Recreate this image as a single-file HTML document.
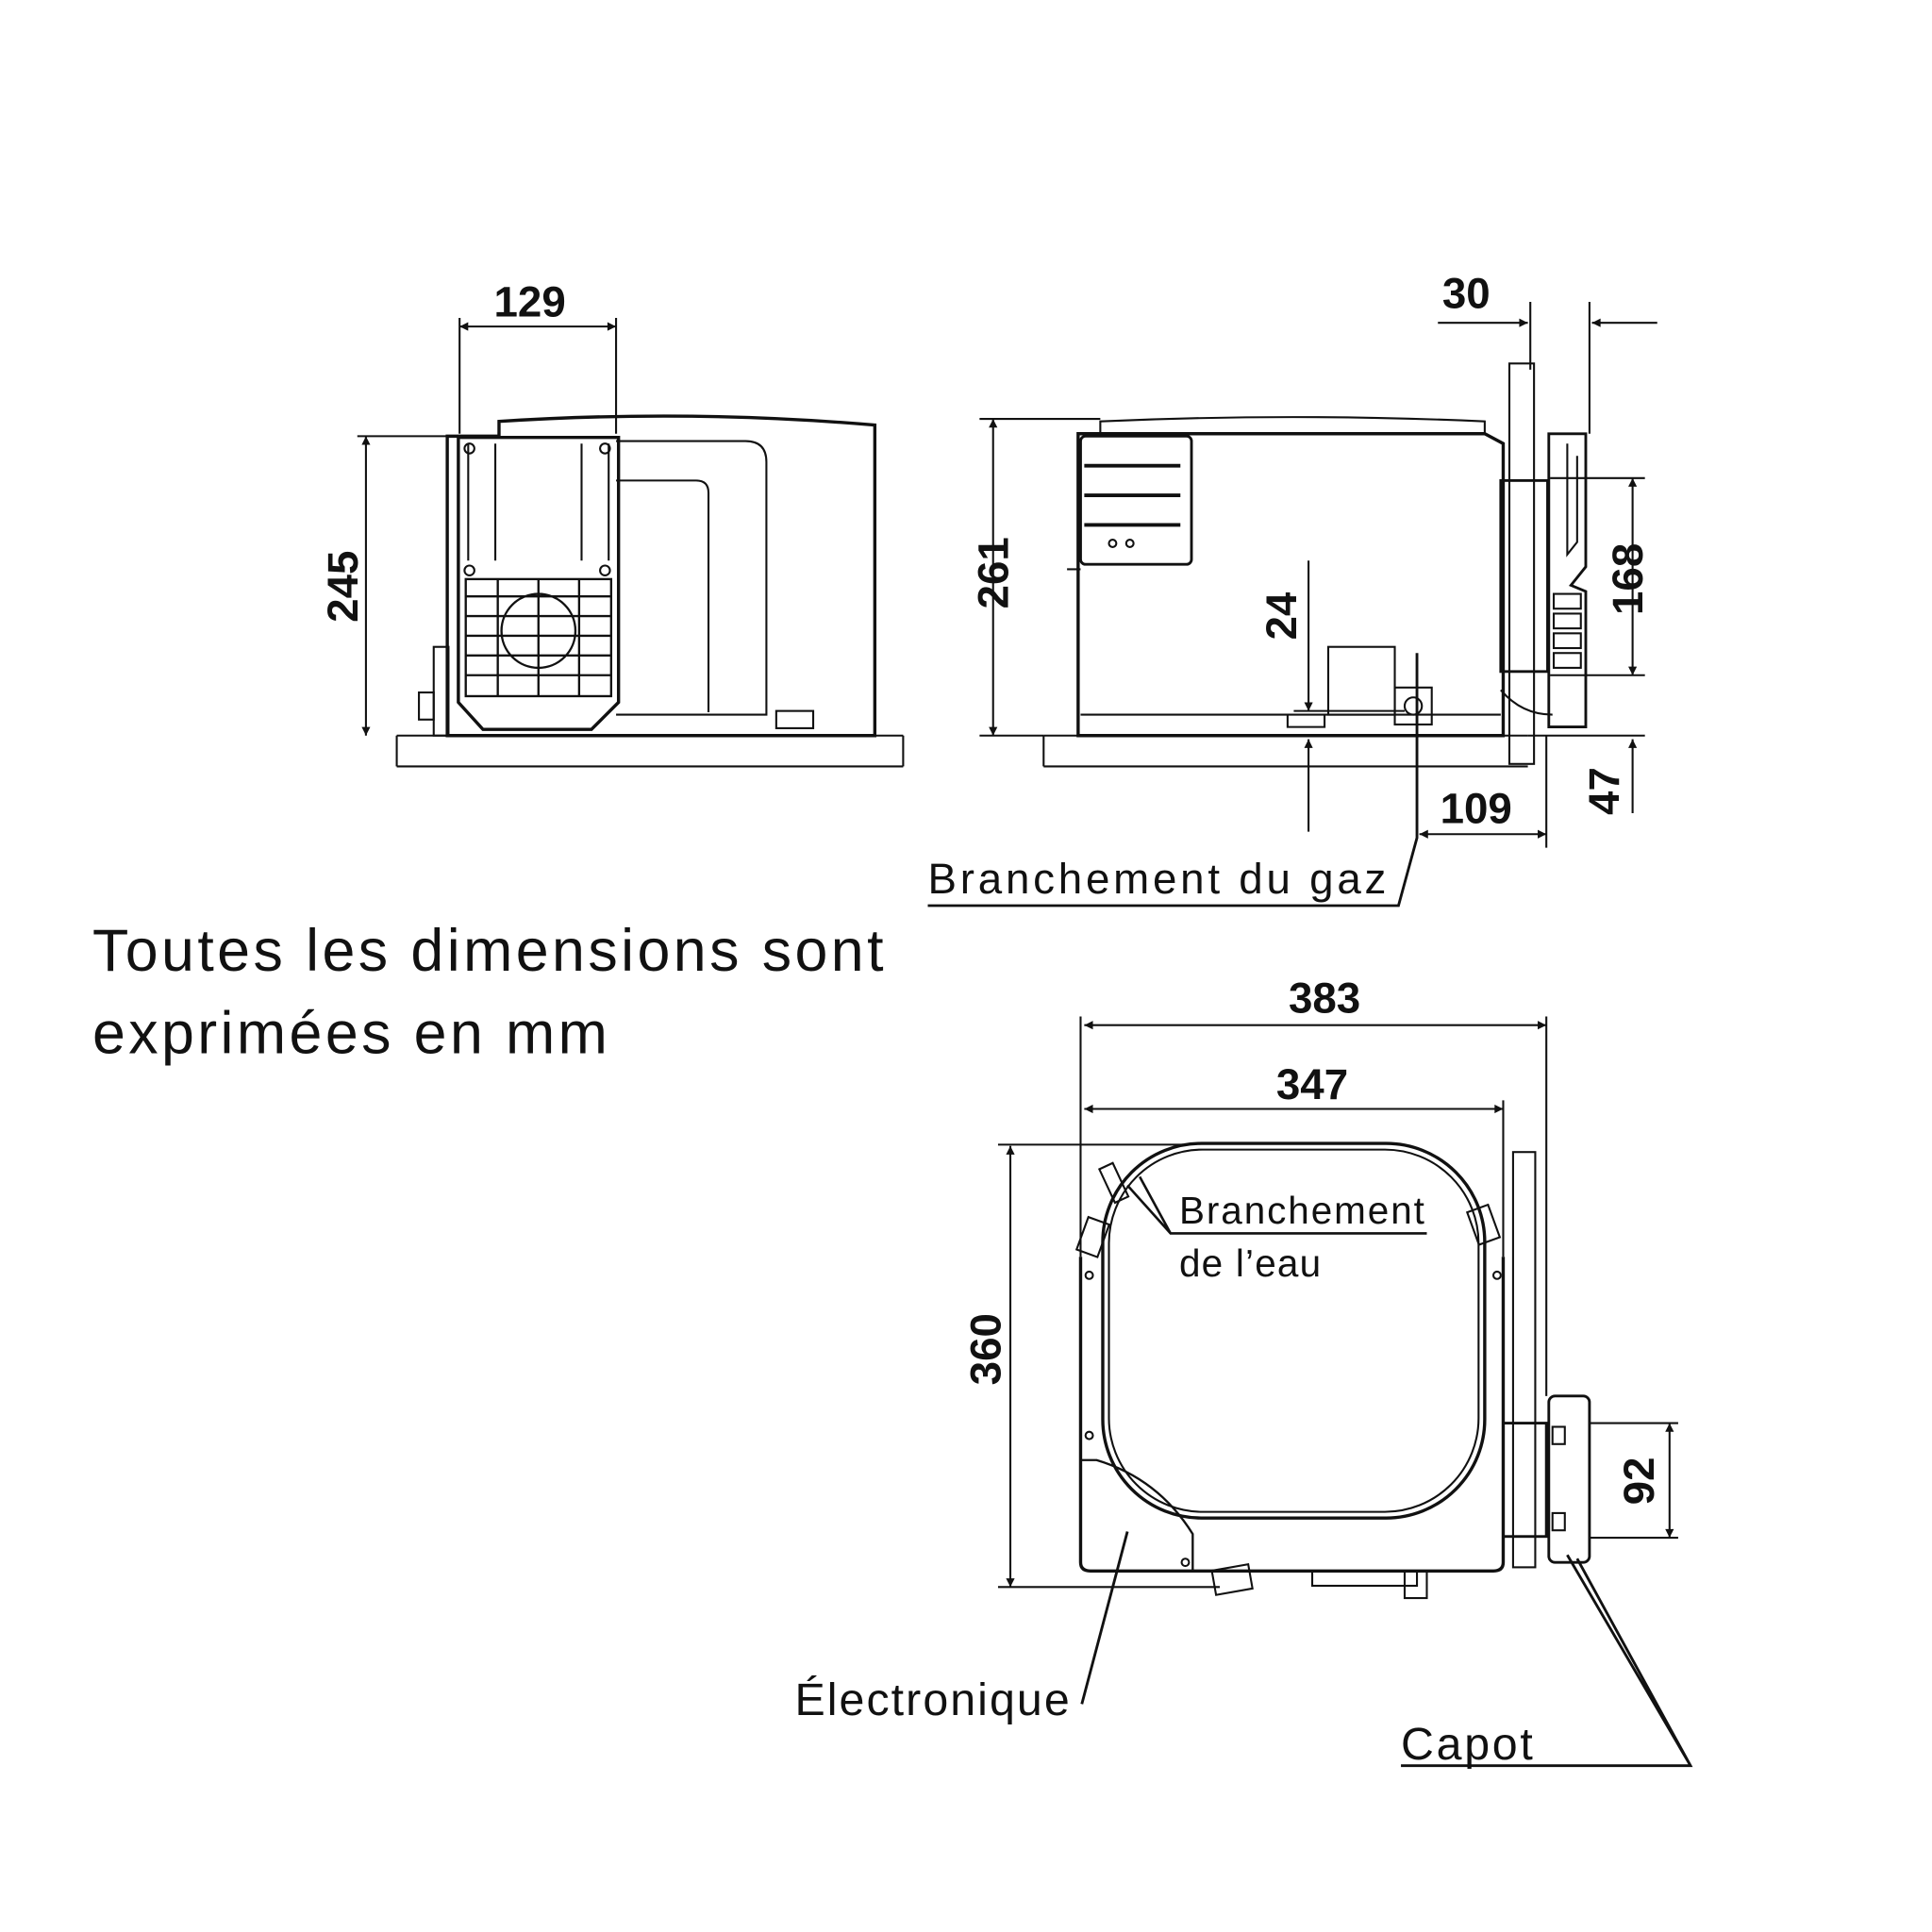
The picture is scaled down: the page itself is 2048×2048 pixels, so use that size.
<!DOCTYPE html>
<html><head><meta charset="utf-8"><style>html,body{margin:0;padding:0;background:#fff}svg{display:block}</style></head>
<body>
<svg width="2048" height="2048" viewBox="0 0 1568 1568" xmlns="http://www.w3.org/2000/svg" font-family="Liberation Sans, sans-serif">
<defs>
<marker id="a" viewBox="0 0 10 10" refX="10" refY="5" markerWidth="12" markerHeight="7" orient="auto-start-reverse" markerUnits="userSpaceOnUse"><path d="M0,0L10,5L0,10z" fill="#111"/></marker>
</defs>
<g stroke="#111" fill="none" stroke-width="1.6">
<!-- LEFT VIEW -->
<line x1="322" y1="597" x2="733" y2="597"/><line x1="322" y1="622" x2="733" y2="622"/><line x1="322" y1="597" x2="322" y2="622"/><line x1="733" y1="597" x2="733" y2="622"/>
<path d="M363,354 L363,597 L710,597 L710,345 Q560,332 405,342 L405,354 Z" stroke-width="2.6"/>
<path d="M500,358 L605,358 Q622,358 622,375 L622,580 L500,580" />
<path d="M500,390 L565,390 Q575,390 575,400 L575,578"/>
<path d="M372,355 L502,355 L502,570 L480,592 L392,592 L372,570 Z" stroke-width="2.6"/>
<path d="M380,360 L380,455 M402,360 L402,455 M472,360 L472,455 M494,360 L494,455"/>
<g stroke-width="1.8">
<rect x="378" y="470" width="118" height="95"/>
<line x1="378" y1="484" x2="496" y2="484"/><line x1="378" y1="500" x2="496" y2="500"/><line x1="378" y1="516" x2="496" y2="516"/><line x1="378" y1="532" x2="496" y2="532"/><line x1="378" y1="548" x2="496" y2="548"/>
<line x1="404" y1="470" x2="404" y2="565"/><line x1="437" y1="470" x2="437" y2="565"/><line x1="470" y1="470" x2="470" y2="565"/>
<circle cx="437" cy="512" r="30"/>
</g>
<circle cx="381" cy="364" r="4"/><circle cx="491" cy="364" r="4"/><circle cx="381" cy="463" r="4"/><circle cx="491" cy="463" r="4"/>
<rect x="340" y="562" width="12" height="22"/><rect x="352" y="525" width="12" height="72"/>
<rect x="630" y="577" width="30" height="14"/>
<line x1="373" y1="258" x2="373" y2="352"/><line x1="500" y1="258" x2="500" y2="352"/>
<line x1="373" y1="265" x2="500" y2="265" marker-start="url(#a)" marker-end="url(#a)"/>
<line x1="290" y1="354" x2="372" y2="354"/>
<line x1="297" y1="354" x2="297" y2="597" marker-start="url(#a)" marker-end="url(#a)"/>

<!-- MIDDLE VIEW -->
<line x1="847" y1="597" x2="1240" y2="597"/><line x1="847" y1="622" x2="1240" y2="622"/><line x1="847" y1="597" x2="847" y2="622"/>
<path d="M875,352 L875,597 L1220,597 L1220,360 L1205,352 Z" stroke-width="2.6"/>
<path d="M893,352 L893,342 Q1050,335 1205,342 L1205,352"/>
<rect x="877" y="354" width="90" height="104" rx="4" stroke-width="2.2"/>
<line x1="880" y1="378" x2="958" y2="378" stroke-width="3"/><line x1="880" y1="402" x2="958" y2="402" stroke-width="3"/><line x1="880" y1="426" x2="958" y2="426" stroke-width="3"/>
<circle cx="903" cy="441" r="3"/><circle cx="917" cy="441" r="3"/>
<line x1="866" y1="462" x2="877" y2="462"/>
<rect x="1078" y="525" width="54" height="55"/>
<path d="M877,580 L1218,580 M1045,580 L1045,590 L1075,590 L1075,580"/>
<rect x="1132" y="558" width="30" height="30"/><circle cx="1147" cy="573" r="7"/>
<rect x="1225" y="295" width="20" height="325"/>
<rect x="1218" y="390" width="38" height="155" stroke-width="2.2"/>
<path d="M1257,352 L1287,352 L1287,460 L1275,475 L1287,480 L1287,590 L1257,590 Z" stroke-width="2.2"/>
<path d="M1272,360 L1272,450 L1280,440 L1280,370"/>
<rect x="1261" y="482" width="22" height="12"/><rect x="1261" y="498" width="22" height="12"/><rect x="1261" y="514" width="22" height="12"/><rect x="1261" y="530" width="22" height="12"/>
<path d="M1218,560 Q1235,580 1260,580" />
<line x1="795" y1="340" x2="893" y2="340"/><line x1="795" y1="597" x2="847" y2="597"/>
<line x1="806" y1="340" x2="806" y2="597" marker-start="url(#a)" marker-end="url(#a)"/>
<line x1="1062" y1="455" x2="1062" y2="577" marker-end="url(#a)"/>
<line x1="1062" y1="675" x2="1062" y2="600" marker-end="url(#a)"/>
<line x1="1050" y1="577" x2="1140" y2="577"/>
<line x1="1242" y1="245" x2="1242" y2="300"/><line x1="1290" y1="245" x2="1290" y2="352"/>
<line x1="1167" y1="262" x2="1240" y2="262" marker-end="url(#a)"/>
<line x1="1345" y1="262" x2="1292" y2="262" marker-end="url(#a)"/>
<line x1="1258" y1="388" x2="1335" y2="388"/><line x1="1258" y1="548" x2="1335" y2="548"/>
<line x1="1325" y1="388" x2="1325" y2="548" marker-start="url(#a)" marker-end="url(#a)"/>
<line x1="1240" y1="597" x2="1335" y2="597"/>
<line x1="1325" y1="660" x2="1325" y2="600" marker-end="url(#a)"/>
<line x1="1255" y1="597" x2="1255" y2="688"/>
<line x1="1152" y1="677" x2="1255" y2="677" marker-start="url(#a)" marker-end="url(#a)"/>
<path d="M1150,530 L1150,680 L1135,735 L753,735" stroke-width="2.2"/>

<!-- BOTTOM VIEW -->
<path d="M877,1020 L877,1268 Q877,1275 885,1275 L1212,1275 Q1220,1275 1220,1268 L1220,1020" stroke-width="2.6"/>
<rect x="895" y="928" width="310" height="304" rx="80" stroke-width="2.6"/>
<rect x="900" y="933" width="300" height="294" rx="76"/>
<path d="M877,1185 L890,1185 Q940,1200 968,1245 L968,1275" stroke-width="1.8"/>
<rect x="878" y="990" width="18" height="28" transform="rotate(20 887 1004)"/>
<rect x="1195" y="980" width="18" height="28" transform="rotate(-20 1204 994)"/>
<rect x="898" y="945" width="12" height="30" transform="rotate(-25 904 960)"/>
<rect x="985" y="1272" width="30" height="20" transform="rotate(-10 1000 1282)"/>
<rect x="1065" y="1275" width="85" height="12"/><rect x="1140" y="1275" width="18" height="22"/>
<rect x="1228" y="935" width="18" height="337"/>
<rect x="1220" y="1155" width="35" height="92" stroke-width="2.2"/>
<rect x="1257" y="1133" width="33" height="135" rx="5" stroke-width="2.2"/>
<rect x="1260" y="1158" width="10" height="14"/><rect x="1260" y="1228" width="10" height="14"/>
<circle cx="884" cy="1035" r="3"/><circle cx="884" cy="1165" r="3"/><circle cx="1215" cy="1035" r="3"/><circle cx="962" cy="1268" r="3"/>
<line x1="877" y1="825" x2="877" y2="1020"/><line x1="1255" y1="825" x2="1255" y2="1133"/><line x1="1220" y1="893" x2="1220" y2="1020"/>
<line x1="880" y1="832" x2="1255" y2="832" marker-start="url(#a)" marker-end="url(#a)"/>
<line x1="880" y1="900" x2="1220" y2="900" marker-start="url(#a)" marker-end="url(#a)"/>
<line x1="810" y1="929" x2="960" y2="929"/><line x1="810" y1="1288" x2="990" y2="1288"/>
<line x1="820" y1="930" x2="820" y2="1288" marker-start="url(#a)" marker-end="url(#a)"/>
<line x1="1290" y1="1155" x2="1362" y2="1155"/><line x1="1290" y1="1248" x2="1362" y2="1248"/>
<line x1="1355" y1="1155" x2="1355" y2="1248" marker-start="url(#a)" marker-end="url(#a)"/>
<path d="M1158,1001 L950,1001 L915,962 M950,1001 L925,955" stroke-width="2"/>
<path d="M878,1383 L915,1243" stroke-width="2.2"/>
<path d="M1137,1433 L1372,1433 L1280,1265 M1372,1433 L1272,1262" stroke-width="2.2"/>
</g>
<g fill="#111" font-weight="bold" font-size="35">
<text x="430" y="257" text-anchor="middle">129</text>
<text transform="translate(290,476) rotate(-90)" text-anchor="middle">245</text>
<text transform="translate(818,465) rotate(-90)" text-anchor="middle">261</text>
<text transform="translate(1052,500) rotate(-90)" text-anchor="middle">24</text>
<text x="1190" y="250" text-anchor="middle">30</text>
<text transform="translate(1333,470) rotate(-90)" text-anchor="middle">168</text>
<text transform="translate(1314,642) rotate(-90)" text-anchor="middle">47</text>
<text x="1198" y="668" text-anchor="middle">109</text>
<text x="1075" y="822" text-anchor="middle">383</text>
<text x="1065" y="892" text-anchor="middle">347</text>
<text transform="translate(812,1095) rotate(-90)" text-anchor="middle">360</text>
<text transform="translate(1342,1202) rotate(-90)" text-anchor="middle">92</text>
</g>
<g fill="#111">
<text x="753" y="725" font-size="35" textLength="372" lengthAdjust="spacing">Branchement du gaz</text>
<text x="75" y="788" font-size="48" textLength="642" lengthAdjust="spacing">Toutes les dimensions sont</text>
<text x="75" y="855" font-size="48" textLength="418" lengthAdjust="spacing">exprimées en mm</text>
<text x="957" y="993" font-size="31" textLength="199" lengthAdjust="spacing">Branchement</text>
<text x="957" y="1036" font-size="31" textLength="115" lengthAdjust="spacing">de l’eau</text>
<text x="645" y="1392" font-size="37" textLength="223" lengthAdjust="spacing">Électronique</text>
<text x="1137" y="1428" font-size="37" textLength="107" lengthAdjust="spacing">Capot</text>
</g>
</svg>
</body></html>
